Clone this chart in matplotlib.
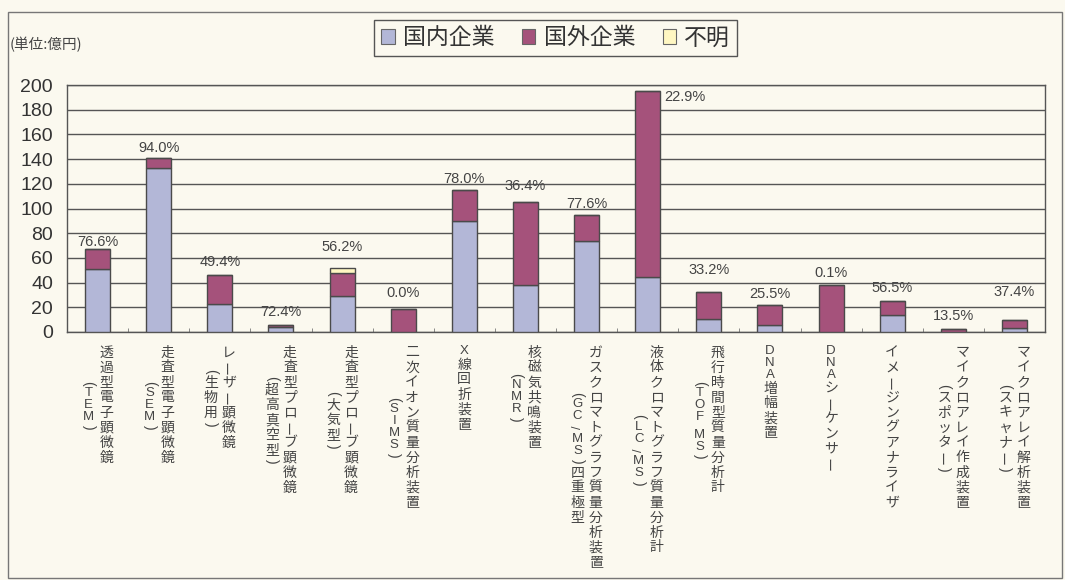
import matplotlib
matplotlib.use("Agg")
import matplotlib.pyplot as plt
from matplotlib.patches import Patch, Rectangle
import numpy as np

# ---- data (unit: 100 million yen) ----
label_main = [
    "透過型電子顕微鏡", "走査型電子顕微鏡", "レーザー顕微鏡", "走査型プローブ顕微鏡",
    "走査型プローブ顕微鏡", "二次イオン質量分析装置", "X線回折装置", "核磁気共鳴装置",
    "ガスクロマトグラフ質量分析装置", "液体クロマトグラフ質量分析計", "飛行時間型質量分析計",
    "DNA増幅装置", "DNAシーケンサー", "イメージングアナライザ",
    "マイクロアレイ作成装置", "マイクロアレイ解析装置",
]
label_sub = [
    "(TEM)", "(SEM)", "(生物用)", "(超高真空型)", "(大気型)", "(SIMS)", "", "(NMR)",
    "(GC/MS)四重極型", "(LC/MS)", "(TOF MS)", "", "", "", "(スポッター)", "(スキャナー)",
]
domestic = [51.3, 132.5, 23.0, 4.34, 29.2, 0.0, 89.7, 38.2,
            73.7, 44.7, 10.6, 5.5, 0.04, 14.1, 0.34, 3.55]
foreign = [15.7, 8.5, 23.5, 1.66, 18.8, 18.5, 25.3, 66.8,
           21.3, 150.3, 21.4, 16.0, 37.96, 10.9, 2.16, 5.95]
unknown = [0, 0, 0, 0, 4.0, 0, 0, 0, 0, 0, 0, 0, 0, 0, 0, 0]
share_labels = ["76.6%", "94.0%", "49.4%", "72.4%", "56.2%", "0.0%", "78.0%", "36.4%",
                "77.6%", "22.9%", "33.2%", "25.5%", "0.1%", "56.5%", "13.5%", "37.4%"]
series_names = ["国内企業", "国外企業", "不明"]
yticks = list(range(0, 201, 20))

# ---- style ----
CJK = ["Noto Sans CJK JP", "DejaVu Sans"]
LAT = ["Liberation Sans", "DejaVu Sans"]
BG = "#FBF9EF"
C_DOM = "#B3B7D7"
C_FOR = "#A5527B"
C_UNK = "#FFF7C2"
EDGE = "#4A4A4A"
TXT = "#444444"

W, H = 1065, 580
fig = plt.figure(figsize=(W / 100, H / 100), dpi=100, facecolor=BG)
ax = fig.add_axes([67 / W, 1 - 332 / H, (1045 - 67) / W, (332 - 85) / H], facecolor=BG)

x = np.arange(len(label_main))
dom = np.array(domestic)
fgn = np.array(foreign)
unk = np.array(unknown)
bw = 0.41
kw = dict(width=bw, edgecolor=EDGE, linewidth=1.0, zorder=3)
ax.bar(x, dom, color=C_DOM, **kw)
ax.bar(x, fgn, bottom=dom, color=C_FOR, **kw)
ax.bar(x, unk, bottom=dom + fgn, color=C_UNK, **kw)
total = dom + fgn + unk

ax.set_xlim(-0.5, len(x) - 0.5)
ax.set_ylim(0, 200)
ax.set_yticks(yticks)
ax.set_yticklabels([str(v) for v in yticks], fontsize=14, family=LAT, color="#333333")
ax.tick_params(axis="y", length=0, pad=10)
ax.set_xticks([])
ax.set_xticks(np.arange(len(x) + 1) - 0.5, minor=True)
ax.tick_params(axis="x", which="minor", direction="in", length=3, color="#777777")
ax.yaxis.grid(True, color="#555555", linewidth=1.0, zorder=0)
ax.set_axisbelow(True)
for s in ax.spines.values():
    s.set_color("#555555")
    s.set_linewidth(1.0)

# share labels above bars (lift in px of the label centre above the bar top)
label_lift_px = [6, 8, 11, 11, 19, 15, 9, 15, 9, 0, 21, 10, 11, 12, 11, 27]
for i, txt in enumerate(share_labels):
    if i == 9:
        ax.annotate(txt, xy=(i + bw / 2, total[i]), xytext=(3, -4), textcoords="offset points",
                    ha="left", va="center", fontsize=10.5, family=LAT, color=TXT, zorder=5)
    else:
        ax.annotate(txt, xy=(i, total[i]), xytext=(0, (label_lift_px[i] + 1.5) * 0.72),
                    textcoords="offset points", ha="center", va="center",
                    fontsize=10.5, family=LAT, color=TXT, zorder=5)


# vertical (tategaki) category labels: glyph, rotation, family, size, advance in px
def glyph(c):
    if c in "()":
        return c, -90, LAT, 10, 8
    if c == "ー":
        return c, 90, CJK, 10, 15
    if c == "/":
        return c, 90, LAT, 9, 11
    if c == " ":
        return c, 0, CJK, 10, 5
    if c.isascii():
        return c, 0, LAT, 9.5, 12
    return c, 0, CJK, 10, 15


def column_height(s):
    return sum(glyph(c)[4] for c in s)


def draw_column(i, s, dx_px, top_px):
    y = top_px
    for c in s:
        g, rot, fam, size, step = glyph(c)
        yc = y + step / 2
        ax.annotate(g, xy=(i, 0), xytext=(dx_px * 0.72, -yc * 0.72), textcoords="offset points",
                    ha="center", va="center", rotation=rot, fontsize=size, family=fam,
                    color=TXT, annotation_clip=False)
        y += step


GAP = 13
for i, (m, sub) in enumerate(zip(label_main, label_sub)):
    if sub:
        draw_column(i, m, 9, GAP)
        mid = GAP + column_height(m) / 2
        draw_column(i, sub, -9, mid - column_height(sub) / 2)
    else:
        draw_column(i, m, 0, GAP)

# unit note
fig.text(10 / W, 1 - 45 / H, "(単位:億円)", fontsize=10.5, family=CJK, color=TXT,
         ha="left", va="center")

# legend
handles = [Patch(facecolor=c, edgecolor="#666666", linewidth=0.8) for c in (C_DOM, C_FOR, C_UNK)]
leg = fig.legend(handles, series_names, loc="center", bbox_to_anchor=(555.5 / W, 1 - 38 / H),
                 bbox_transform=fig.transFigure, ncol=3, prop={"family": CJK, "size": 16.5},
                 handlelength=0.6, handleheight=0.6, handletextpad=0.35, columnspacing=1.2,
                 borderpad=0.3, fancybox=False, framealpha=1, facecolor=BG, edgecolor="#555555")
leg.get_frame().set_linewidth(1.0)
for t in leg.get_texts():
    t.set_color("#333333")

# outer frame
fig.patches.append(Rectangle((8 / W, 2 / H), (1062 - 8) / W, (568 - 2) / H,
                             transform=fig.transFigure, fill=False, edgecolor="#777777",
                             linewidth=1.0))

fig.savefig("out.png", dpi=100, facecolor=BG)
